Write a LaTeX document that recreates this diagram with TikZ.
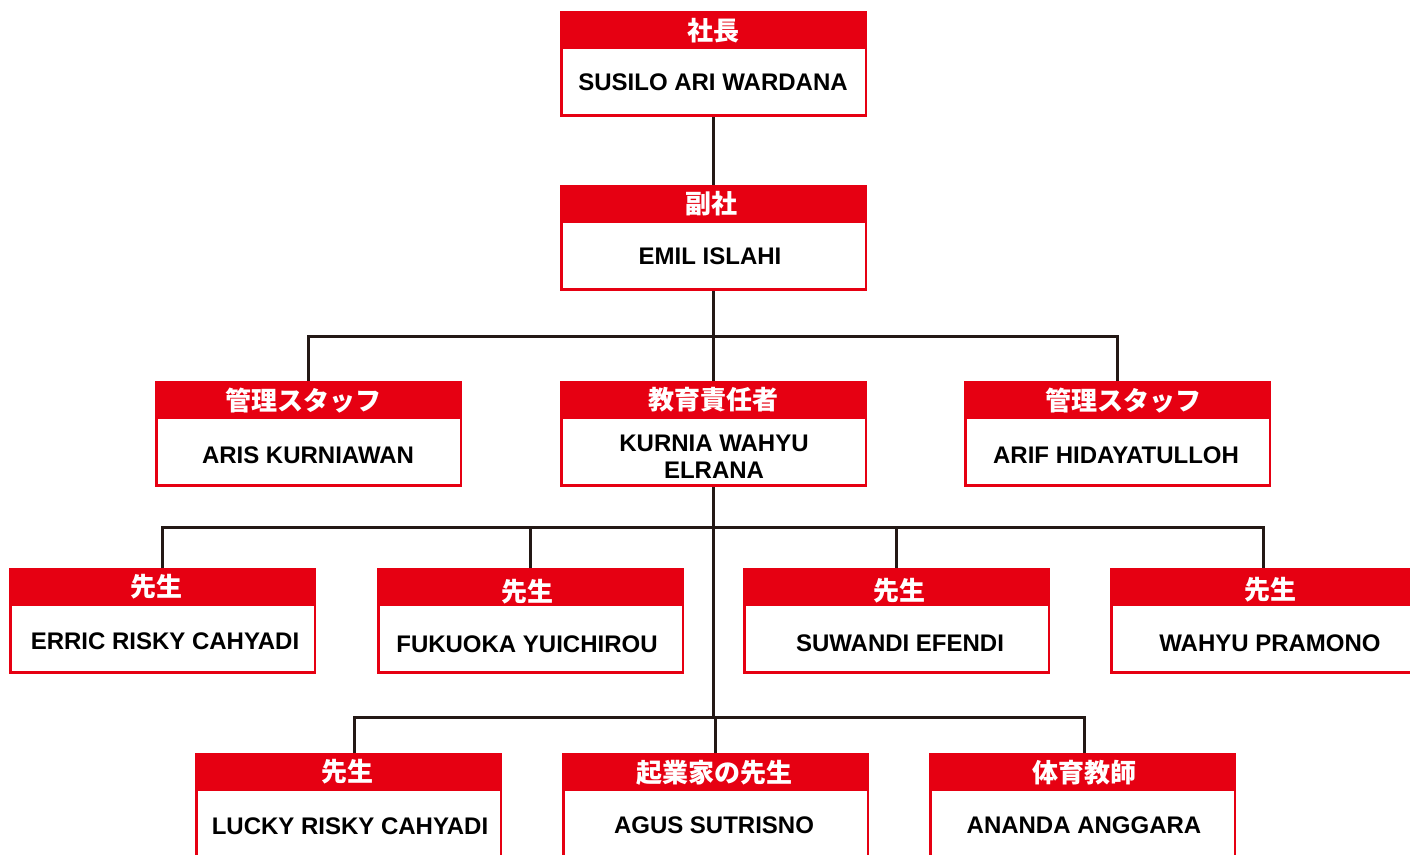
\documentclass[tikz,border=0pt]{standalone}
\usepackage{fontspec}
\setmainfont{Liberation Sans}
\newfontfamily\jpfont{Noto Sans CJK JP}
\usetikzlibrary{calc}
\definecolor{orgred}{HTML}{E60012}
\definecolor{linec}{HTML}{231815}
% #1 name, #2 x, #3 y, #4 title, #5 title x, #6 title y, #7 name text, #8 name x, #9 name y
\newcommand\orgbox[9]{%
  \node[redbox] (#1) at (#2,#3) {};
  \node[whitebox] (#1w) at ($(#1.north west)+(3,38)$) {};
  \node[ttl] (#1t) at (#5,#6) {#4};
  \node[nm] (#1n) at (#8,#9) {#7};
}
\begin{document}
\begin{tikzpicture}[x=1pt,y=-1pt,
  redbox/.style={fill=orgred, minimum width=307pt, minimum height=106pt, inner sep=0pt, outer sep=0pt, anchor=north west},
  whitebox/.style={fill=white, minimum width=302pt, minimum height=65pt, inner sep=0pt, outer sep=0pt, anchor=north west},
  ttl/.style={text=white, font=\jpfont\bfseries\fontsize{26}{28}\selectfont, inner sep=0pt},
  nm/.style={text=black, font=\bfseries\fontsize{24}{27}\selectfont, align=center, inner sep=0pt},
  conn/.style={draw=linec, line width=3pt}]
\useasboundingbox (0,0) rectangle (1410,854);
\fill[white] (0,0) rectangle (1410,854);

\orgbox{ceo}{560}{11}{社長}{713}{31}{SUSILO ARI WARDANA}{713}{82}
\orgbox{vp}{560}{185}{副社}{711}{204}{EMIL ISLAHI}{710}{256}
\orgbox{kanL}{155}{381}{管理スタッフ}{303}{401}{ARIS KURNIAWAN}{308}{455}
\orgbox{edu}{560}{381}{教育責任者}{713}{400}{KURNIA WAHYU\\ELRANA}{714}{457}
\orgbox{kanR}{964}{381}{管理スタッフ}{1123}{401}{ARIF HIDAYATULLOH}{1116}{455}
\orgbox{ta}{9}{568}{先生}{156}{587}{ERRIC RISKY CAHYADI}{165}{641}
\orgbox{tb}{377}{568}{先生}{527}{592}{FUKUOKA YUICHIROU}{527}{644}
\orgbox{tc}{743}{568}{先生}{899}{591}{SUWANDI EFENDI}{900}{643}
\orgbox{td}{1110}{568}{先生}{1270}{590}{WAHYU PRAMONO}{1270}{643}
\orgbox{te}{195}{753}{先生}{347}{772}{LUCKY RISKY CAHYADI}{350}{826}
\orgbox{tf}{562}{753}{起業家の先生}{714}{773}{AGUS SUTRISNO}{714}{825}
\orgbox{tg}{929}{753}{体育教師}{1084}{773}{ANANDA ANGGARA}{1084}{825}

\draw[conn] (ceo.south) -- (vp.north);
\draw[conn] (vp.south) -- (edu.north);
\draw[conn] (kanL.north) -- ++(0,-45) -| (kanR.north);
\draw[conn] (edu.south) -- ++(0,230);
\draw[conn] (ta.north) -- ++(0,-41) -| (td.north);
\draw[conn] (tb.north) -- ++(0,-41);
\draw[conn] (tc.north) -- ++(0,-41);
\draw[conn] ([xshift=6pt]te.north) -- ++(0,-36) -| ([xshift=1.5pt]tg.north);
\draw[conn] (tf.north) -- ++(0,-36);
\end{tikzpicture}
\end{document}
